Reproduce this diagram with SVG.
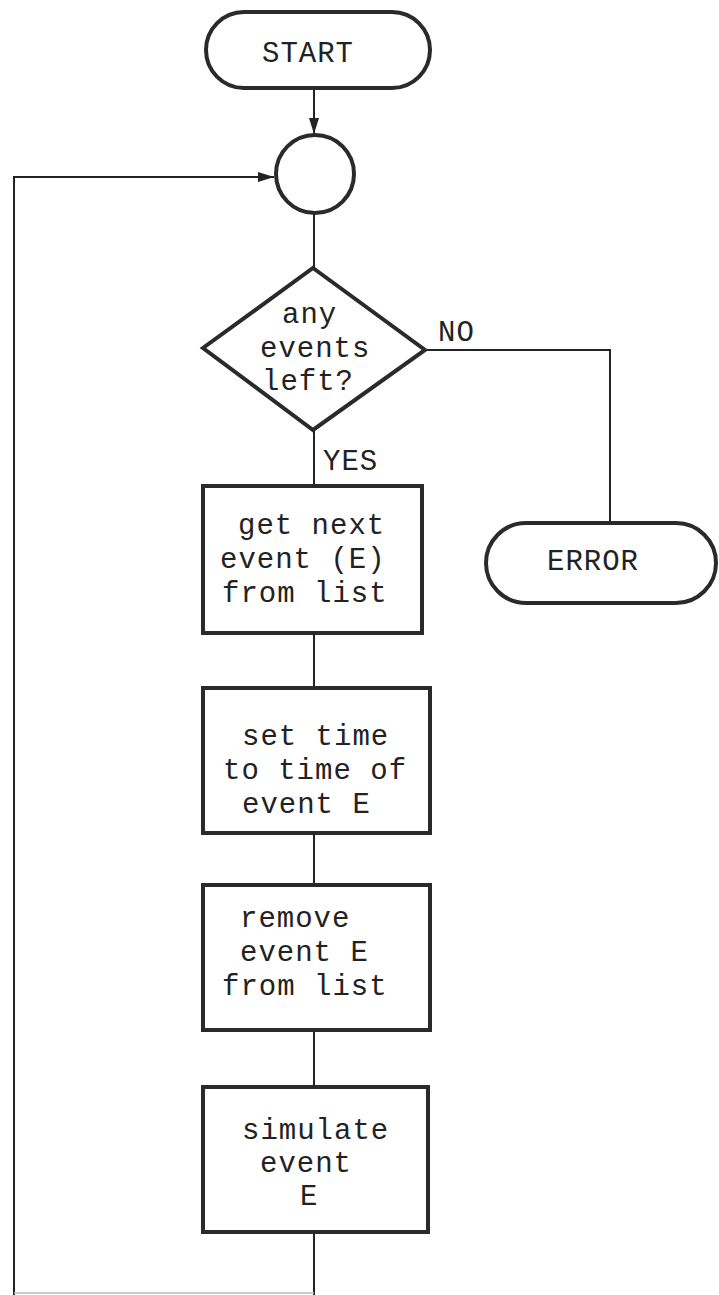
<svg xmlns="http://www.w3.org/2000/svg" width="719" height="1295" viewBox="0 0 719 1295">
<style>
.shape{fill:#fff;stroke:#2a2a2a;stroke-width:4}
.conn{fill:none;stroke:#222;stroke-width:2}
text{font-family:"Liberation Mono","DejaVu Sans Mono",monospace;font-size:29px;letter-spacing:1px;fill:#222}
</style>
<defs>
<marker id="arr" viewBox="0 0 16 10" refX="16" refY="5" markerWidth="16" markerHeight="10" markerUnits="userSpaceOnUse" orient="auto">
<path d="M0,0 L16,5 L0,10 Z" fill="#222"/>
</marker>
</defs>
<rect width="719" height="1295" fill="#fff"/>
<g id="connectors">
<line class="conn" x1="314" y1="88" x2="314" y2="134" marker-end="url(#arr)"/>
<polyline class="conn" points="14,1295 14,177 274,177" marker-end="url(#arr)"/>
<line class="conn" x1="314" y1="213" x2="314" y2="268"/>
<polyline class="conn" points="425,350 610,350 610,523"/>
<line class="conn" x1="314" y1="430" x2="314" y2="485"/>
<line class="conn" x1="314" y1="633" x2="314" y2="688"/>
<line class="conn" x1="314" y1="833" x2="314" y2="885"/>
<line class="conn" x1="314" y1="1030" x2="314" y2="1087"/>
<line class="conn" x1="314" y1="1232" x2="314" y2="1295"/>
<line x1="14" y1="1293" x2="314" y2="1293" stroke="#bbb" stroke-width="1.5"/>
</g>
<g id="start">
<rect class="shape" x="206" y="12" width="224" height="76" rx="38" ry="38"/>
<text x="262" y="62">START</text>
</g>
<g id="junction">
<circle class="shape" cx="315" cy="174" r="39"/>
</g>
<g id="decision">
<polygon class="shape" points="313,268 425,350 313,430 203,348"/>
<text x="282" y="323">any</text>
<text x="260" y="357">events</text>
<text x="262" y="390">left?</text>
<text x="438" y="341">NO</text>
<text x="323" y="470">YES</text>
</g>
<g id="error">
<rect class="shape" x="486" y="523" width="230" height="80" rx="40" ry="40"/>
<text x="547" y="570">ERROR</text>
</g>
<g id="getnext">
<rect class="shape" x="203" y="486" width="219" height="147"/>
<text x="238" y="534">get next</text>
<text x="220" y="568">event (E)</text>
<text x="222" y="602">from list</text>
</g>
<g id="settime">
<rect class="shape" x="203" y="688" width="227" height="145"/>
<text x="242" y="745">set time</text>
<text x="223" y="779">to time of</text>
<text x="242" y="813">event E</text>
</g>
<g id="remove">
<rect class="shape" x="203" y="885" width="227" height="145"/>
<text x="240" y="927">remove</text>
<text x="240" y="961">event E</text>
<text x="222" y="995">from list</text>
</g>
<g id="simulate">
<rect class="shape" x="203" y="1087" width="225" height="145"/>
<text x="242" y="1139">simulate</text>
<text x="260" y="1172">event</text>
<text x="300" y="1205">E</text>
</g>
</svg>
